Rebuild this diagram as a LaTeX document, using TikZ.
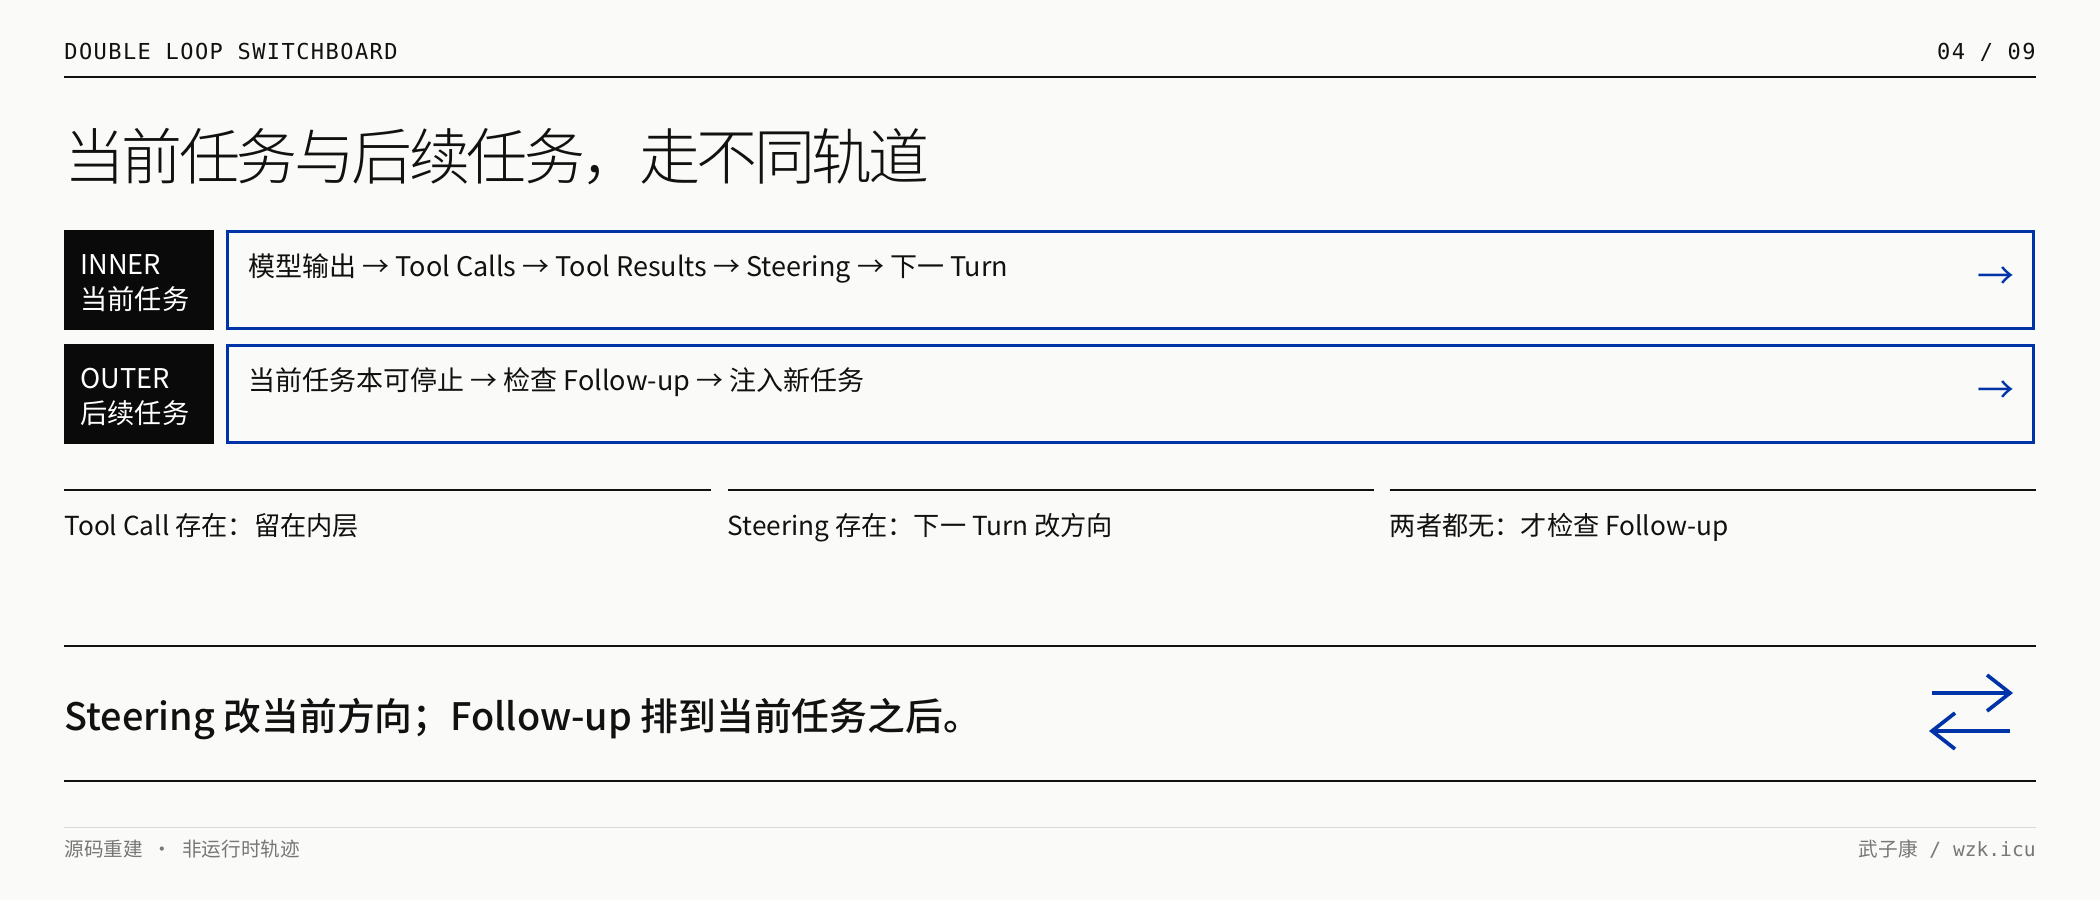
\documentclass[tikz,border=0pt]{standalone}
\usepackage{fontspec}
\setmainfont{Noto Sans CJK SC}
\newfontfamily\monofont{DejaVu Sans Mono}
\newfontfamily\kickerfont{DejaVu Sans Mono}[LetterSpace=6.5]
\IfFontExistsTF{Noto Sans CJK SC Light}
  {\newfontfamily\titlefont{Noto Sans CJK SC Light}[LetterSpace=-5.8]}
  {\newfontfamily\titlefont{Noto Sans CJK SC}[LetterSpace=-5.8]}
\IfFontExistsTF{Noto Sans CJK SC Medium}
  {\newfontfamily\leadfont{Noto Sans CJK SC Medium}}
  {\newcommand\leadfont{\bfseries}}

\definecolor{paper}{HTML}{FAFAF8}
\definecolor{ink}{HTML}{111111}
\definecolor{tagblack}{HTML}{0A0A0A}
\definecolor{railblue}{HTML}{0033A8}
\definecolor{mute}{HTML}{777777}
\definecolor{hair}{HTML}{D9D9D9}

\tikzstyle{mono} = [inner sep=0, text=ink, font=\kickerfont\fontsize{11pt}{14pt}\selectfont]
\tikzstyle{headline} = [inner sep=0, text=ink, font=\titlefont\fontsize{30.5pt}{36pt}\selectfont]
\tikzstyle{tagbox} = [rectangle, fill=tagblack, inner sep=0, minimum width=75pt, minimum height=50pt]
\tikzstyle{railbox} = [rectangle, draw=railblue, line width=1.3pt, inner sep=0, minimum width=903pt, minimum height=48.7pt]
\tikzstyle{tagtext} = [inner sep=0, text=white, font=\fontsize{13.6pt}{16pt}\selectfont]
\tikzstyle{flowtext} = [inner sep=0, text=ink, font=\fontsize{13.5pt}{16pt}\selectfont]
\tikzstyle{railarrow} = [inner sep=0, text=railblue, font=\fontsize{18.5pt}{20pt}\selectfont]
\tikzstyle{notetext} = [inner sep=0, text=ink, font=\fontsize{13.1pt}{16pt}\selectfont]
\tikzstyle{leadtext} = [inner sep=0, text=ink, font=\leadfont\fontsize{18.9pt}{22pt}\selectfont]
\tikzstyle{foottext} = [inner sep=0, text=mute, font=\fontsize{9.8pt}{12pt}\selectfont]
\tikzstyle{rule} = [draw=ink, line width=1pt]
\tikzstyle{heavyrule} = [draw=ink, line width=1.4pt]
\tikzstyle{hairline} = [draw=hair, line width=0.5pt]
\tikzstyle{swapline} = [draw=railblue, line width=1.85pt]

\begin{document}
\begin{tikzpicture}[x=0.5pt, y=-0.5pt, node distance=57pt]

    \fill [paper] (0,0) rectangle (2100,900);
    \useasboundingbox (0,0) rectangle (2100,900);

    % header
    \node (kicker) [mono, anchor=base west] at (64,59) {DOUBLE LOOP SWITCHBOARD};
    \node (pageno) [mono, anchor=base east] at (2036,59) {04 / 09};
    \draw [rule] (64,77) -- (2036,77);

    \node (title) [headline, anchor=base west] at (64,179) {当前任务与后续任务，走不同轨道};

    % the two rails
    \node (innerTag) [tagbox] at (139,280) {};
    \node (outerTag) [tagbox, below of=innerTag] {};
    \node (innerRail) [railbox] at (1130.5,280) {};
    \node (outerRail) [railbox, below of=innerRail] {};

    \node (innerEn) [tagtext, anchor=base west] at (80,274) {INNER};
    \node (innerZh) [tagtext, anchor=base west] at (80,309) {当前任务};
    \node (outerEn) [tagtext, anchor=base west] at (80,388) {OUTER};
    \node (outerZh) [tagtext, anchor=base west] at (80,423) {后续任务};

    \node (innerFlow) [flowtext, anchor=base west] at (248,276) {模型输出 → Tool Calls → Tool Results → Steering → 下一 Turn};
    \node (outerFlow) [flowtext, anchor=base west] at (248,390) {当前任务本可停止 → 检查 Follow-up → 注入新任务};
    \node (innerGo) [railarrow, anchor=base] at (1996,289) {→};
    \node (outerGo) [railarrow, anchor=base] at (1996,403) {→};

    % three conditions
    \foreach \x/\txt [count=\i] in {64/{Tool Call 存在：留在内层},
                                     727.5/{Steering 存在：下一 Turn 改方向},
                                     1389.5/{两者都无：才检查 Follow-up}} {
        \draw [rule] (\x,490) -- ++(646.5,0);
        \node (note\i) [notetext, anchor=base west] at (\x,535) {\txt};
    }

    % takeaway
    \draw [heavyrule] (64,646) -- (2036,646);
    \draw [heavyrule] (64,781) -- (2036,781);
    \node (lead) [leadtext, anchor=base west] at (64,730) {Steering 改当前方向；Follow-up 排到当前任务之后。};

    \coordinate (swapTopTail) at (1932,693);
    \coordinate (swapTopTip) at (2010,693);
    \coordinate (swapLowTail) at (2010,731);
    \coordinate (swapLowTip) at (1932,731);
    \draw [swapline] (swapTopTail) -- (swapTopTip);
    \draw [swapline] (1987,675) -- (swapTopTip) -- (1987,711);
    \draw [swapline] (swapLowTail) -- (swapLowTip);
    \draw [swapline] (1955,713) -- (swapLowTip) -- (1955,749);

    % footer
    \draw [hairline] (64,827) -- (2036,827);
    \node (source) [foottext, anchor=base west] at (64,856) {源码重建\hspace{5pt}·\hspace{5pt}非运行时轨迹};
    \node (byline) [foottext, anchor=base east] at (2036,856) {武子康{\monofont\ / wzk.icu}};

\end{tikzpicture}
\end{document}
